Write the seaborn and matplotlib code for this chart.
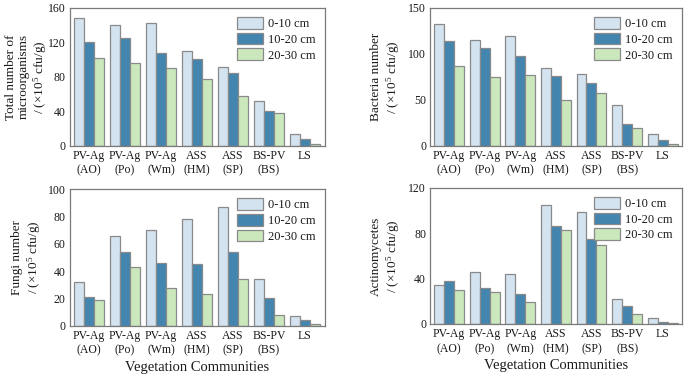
import matplotlib
matplotlib.use("Agg")
import matplotlib.pyplot as plt
import seaborn as sns
import pandas as pd

categories = ["PV-Ag\n(AO)", "PV-Ag\n(Po)", "PV-Ag\n(Wm)", "ASS\n(HM)", "ASS\n(SP)", "BS-PV\n(BS)", "LS"]
depths = ["0-10 cm", "10-20 cm", "20-30 cm"]

total_0_10 = [148, 140, 143, 110, 91, 52, 14]
total_10_20 = [120, 125, 108, 101, 84, 40, 8]
total_20_30 = [102, 96, 90, 78, 58, 38, 2]

bact_0_10 = [132, 115, 119, 85, 78, 44, 13]
bact_10_20 = [114, 106, 98, 76, 68, 24, 6]
bact_20_30 = [87, 75, 77, 50, 58, 19, 2]

fungi_0_10 = [32, 66, 70, 78, 87, 34, 7]
fungi_10_20 = [21, 54, 46, 45, 54, 20, 4]
fungi_20_30 = [19, 43, 28, 23, 34, 8, 1]

actino_0_10 = [34, 46, 44, 105, 99, 22, 5]
actino_10_20 = [38, 32, 26, 86, 75, 16, 2]
actino_20_30 = [30, 28, 19, 83, 70, 9, 1]

sns.set_theme(style="white")
plt.rcParams["font.family"] = ["Liberation Serif", "DejaVu Serif"]
plt.rcParams["mathtext.fontset"] = "custom"
plt.rcParams["mathtext.rm"] = "Liberation Serif"
plt.rcParams["mathtext.it"] = "Liberation Serif:italic"
for k in ["text.color", "axes.labelcolor", "xtick.color", "ytick.color"]:
    plt.rcParams[k] = "#1a1a1a"

palette = ["#cfe4f5", "#3189c0", "#c9f0b4"]
edge = "#8a8a8a"

def make_df(a, b, c):
    rows = []
    for d, vals in zip(depths, [a, b, c]):
        for cat, v in zip(categories, vals):
            rows.append({"cat": cat, "depth": d, "val": v})
    return pd.DataFrame(rows)

panels = [
    (make_df(total_0_10, total_10_20, total_20_30), "Total number of\nmicroorganisms\n/ (×10$^{5}$ cfu/g)", 160, [0, 40, 80, 120, 160], [0.102, 0.614, 0.372, 0.365], False, -0.168),
    (make_df(bact_0_10, bact_10_20, bact_20_30), "Bacteria number\n/ (×10$^{5}$ cfu/g)", 150, [0, 50, 100, 150], [0.628, 0.614, 0.368, 0.365], False, -0.175),
    (make_df(fungi_0_10, fungi_10_20, fungi_20_30), "Fungi number\n/ (×10$^{5}$ cfu/g)", 100, [0, 20, 40, 60, 80, 100], [0.102, 0.138, 0.372, 0.362], True, -0.168),
    (make_df(actino_0_10, actino_10_20, actino_20_30), "Actinomycetes\n/ (×10$^{5}$ cfu/g)", 120, [0, 40, 80, 120], [0.628, 0.143, 0.368, 0.360], True, -0.175),
]

fig = plt.figure(figsize=(6.85, 3.78), dpi=100)
for df, ylab, ymax, yticks, rect, showx, labx in panels:
    ax = fig.add_axes(rect)
    sns.barplot(data=df, x="cat", y="val", hue="depth", palette=palette,
                edgecolor=edge, linewidth=0.9, width=0.84, ax=ax, errorbar=None)
    ax.set_xlim(-0.53, 6.55)
    ax.set_ylim(0, ymax)
    ax.set_yticks(yticks)
    ax.set_ylabel(ylab, fontsize=9.5, linespacing=1.15)
    ax.yaxis.label.set_verticalalignment("center")
    ax.yaxis.set_label_coords(labx, 0.5)
    ax.set_xlabel("Vegetation Communities" if showx else "", fontsize=10.5, labelpad=3)
    ax.tick_params(axis="both", length=0, labelsize=8.5, pad=3)
    for lab in ax.get_xticklabels():
        lab.set_linespacing(1.3)
    for s in ax.spines.values():
        s.set_color("#7a7a7a")
        s.set_linewidth(0.9)
    leg = ax.legend(loc="upper right", frameon=False, fontsize=9,
                    handlelength=2.1, handleheight=1.05, handletextpad=0.4,
                    labelspacing=0.2, borderaxespad=0.35)
    for h in leg.legend_handles:
        h.set_edgecolor(edge)
        h.set_linewidth(0.9)

fig.savefig("out.png", dpi=100)
